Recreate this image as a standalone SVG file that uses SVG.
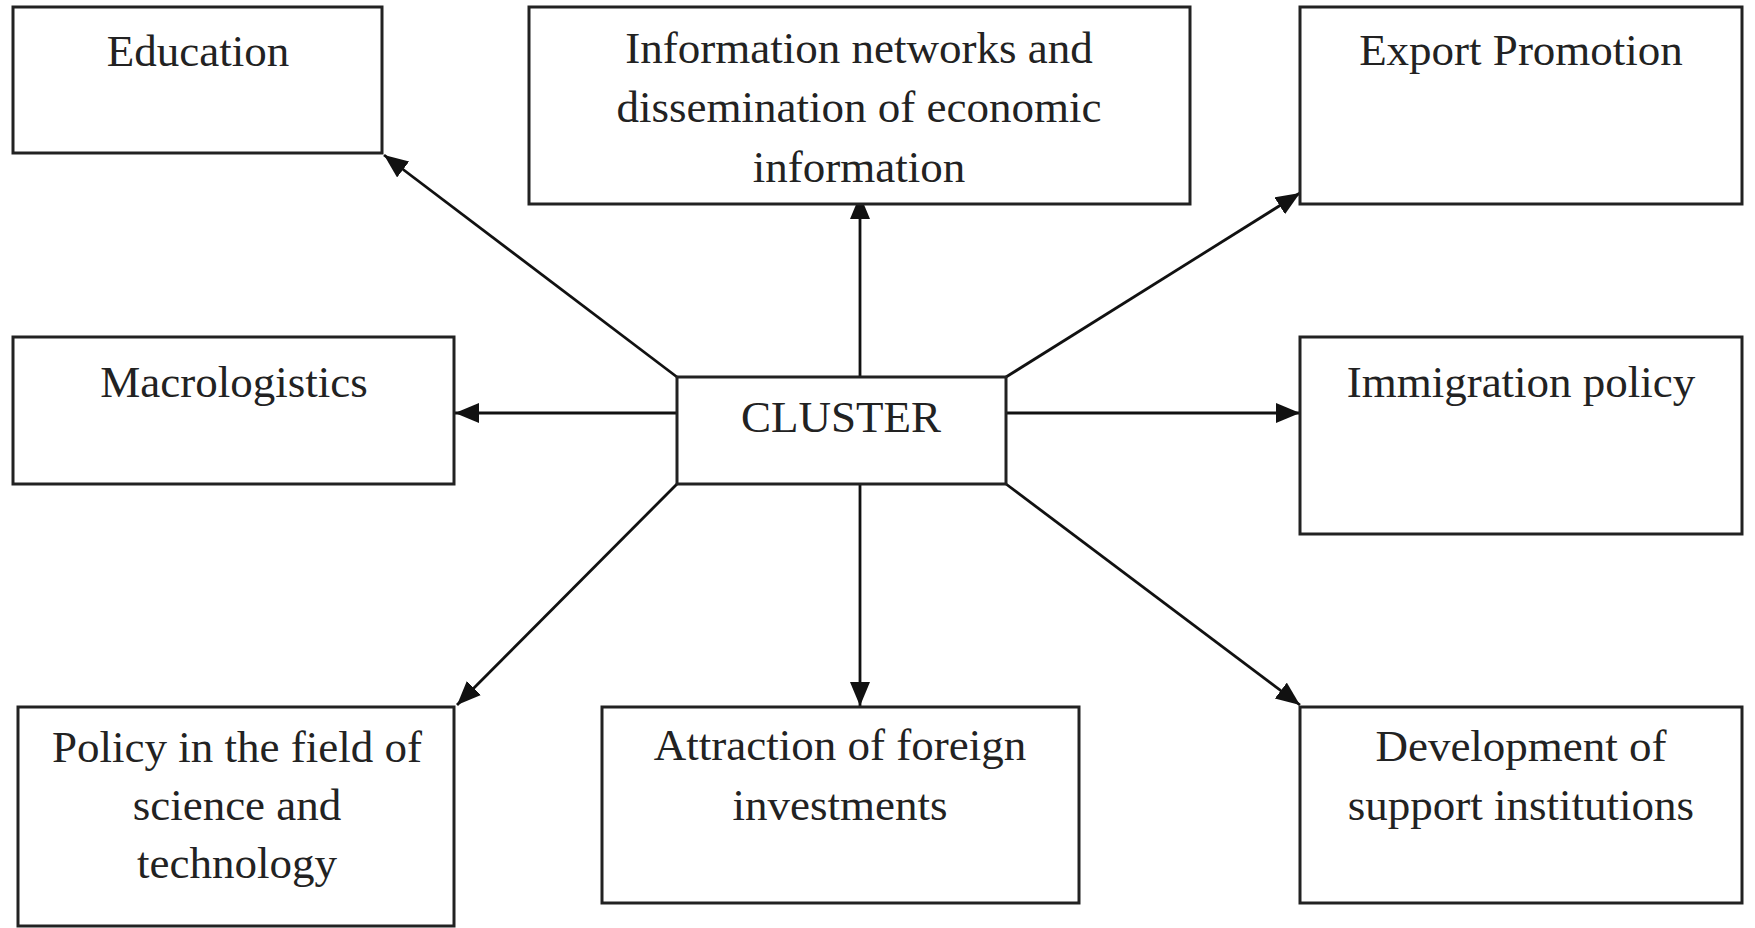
<svg xmlns="http://www.w3.org/2000/svg" width="1755" height="928" viewBox="0 0 1755 928">
<style>
.box{fill:#fff;stroke:#222;stroke-width:3}
.t{font-family:"Liberation Serif","Times New Roman",serif;font-size:45px;fill:#222;text-anchor:middle}
.c{stroke:#111;stroke-width:2.8;fill:none;marker-end:url(#ah)}
</style>
<defs>
<marker id="ah" markerUnits="userSpaceOnUse" markerWidth="26" markerHeight="22" refX="24" refY="10" orient="auto">
<path d="M0,0 L24,10 L0,20 Z" fill="#111"/>
</marker>
</defs>
<rect width="1755" height="928" fill="#fff"/>
<g id="connectors">
<line class="c" x1="677" y1="377" x2="384" y2="155"/>
<line class="c" x1="860" y1="377" x2="860" y2="195"/>
<line class="c" x1="1006" y1="377" x2="1300" y2="193"/>
<line class="c" x1="677" y1="413" x2="455" y2="413"/>
<line class="c" x1="1006" y1="413" x2="1300" y2="413"/>
<line class="c" x1="677" y1="484" x2="457" y2="705"/>
<line class="c" x1="860" y1="484" x2="860" y2="706"/>
<line class="c" x1="1006" y1="484" x2="1300" y2="705"/>
</g>
<g id="education">
<rect class="box" x="13" y="7" width="369" height="146"/>
<text class="t" x="198" y="66">Education</text>
</g>
<g id="info">
<rect class="box" x="529" y="7" width="661" height="197"/>
<text class="t" x="859" y="63">Information networks and</text>
<text class="t" x="859" y="122">dissemination of economic</text>
<text class="t" x="859" y="182">information</text>
</g>
<g id="export">
<rect class="box" x="1300" y="7" width="442" height="197"/>
<text class="t" x="1521" y="65">Export Promotion</text>
</g>
<g id="macrologistics">
<rect class="box" x="13" y="337" width="441" height="147"/>
<text class="t" x="234" y="397">Macrologistics</text>
</g>
<g id="cluster">
<rect class="box" x="677" y="377" width="329" height="107"/>
<text class="t" x="841" y="432">CLUSTER</text>
</g>
<g id="immigration">
<rect class="box" x="1300" y="337" width="442" height="197"/>
<text class="t" x="1521" y="397">Immigration policy</text>
</g>
<g id="policy">
<rect class="box" x="18" y="707" width="436" height="219"/>
<text class="t" x="237" y="762">Policy in the field of</text>
<text class="t" x="237" y="820">science and</text>
<text class="t" x="237" y="878">technology</text>
</g>
<g id="attraction">
<rect class="box" x="602" y="707" width="477" height="196"/>
<text class="t" x="840" y="760">Attraction of foreign</text>
<text class="t" x="840" y="820">investments</text>
</g>
<g id="development">
<rect class="box" x="1300" y="707" width="442" height="196"/>
<text class="t" x="1521" y="761">Development of</text>
<text class="t" x="1521" y="820">support institutions</text>
</g>
</svg>
